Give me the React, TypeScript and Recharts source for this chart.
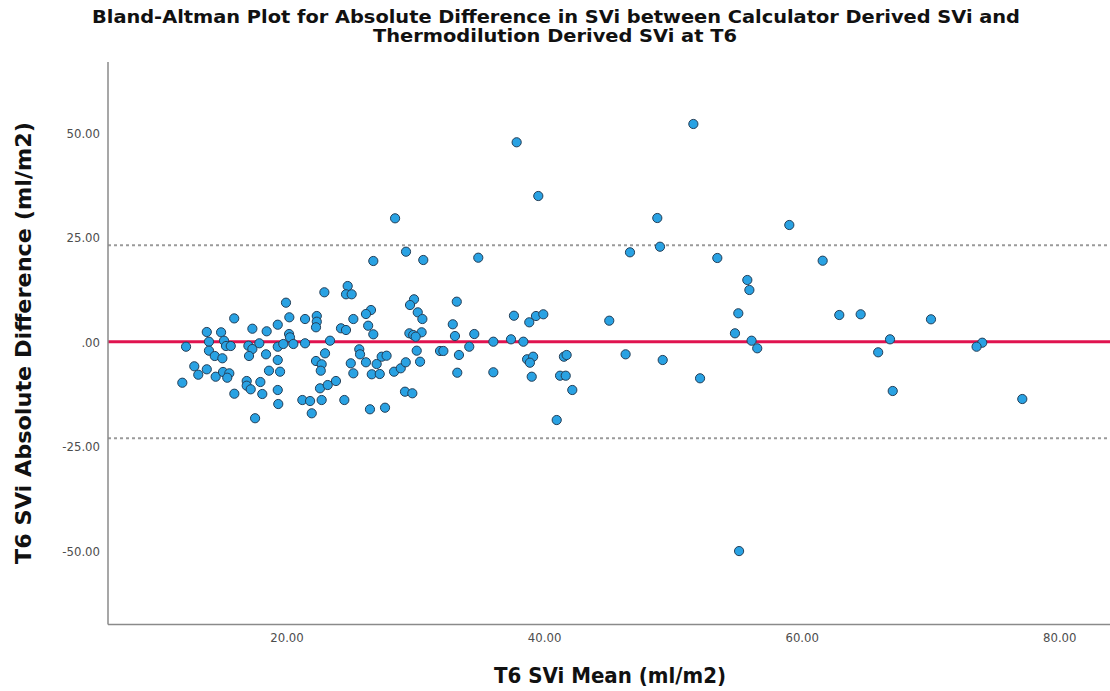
import React from 'react';
import { ScatterChart, Scatter, XAxis, YAxis, ReferenceLine } from 'recharts';

// T6 SVi mean (x) and absolute difference (y)
const meanValues: number[] = [
  15.9, 13.77, 14.88, 17.31, 18.42, 19.28, 12.16, 13.94, 15.11, 15.26,
  15.63, 13.94, 14.39, 14.98, 17.0, 17.31, 17.85, 17.05, 18.37, 19.28,
  19.28, 12.8, 13.77, 13.11, 14.46, 15.03, 15.52, 15.36, 18.6, 19.46,
  11.87, 16.87, 16.87, 17.18, 17.93, 15.91, 18.08, 19.28, 19.32, 17.52,
  28.39, 29.24, 30.58, 26.7, 22.9, 24.71, 24.58, 25.02, 19.92, 29.86,
  29.55, 26.52, 26.13, 30.15, 30.51, 20.18, 21.4, 22.31, 22.31, 22.25,
  25.15, 24.19, 24.58, 26.3, 26.7, 29.5, 29.8, 30.45, 29.99, 20.16,
  20.23, 19.71, 20.49, 21.4, 23.34, 31.88, 32.14, 30.07, 25.61, 25.67,
  22.95, 22.25, 22.69, 22.62, 24.95, 25.15, 26.13, 26.96, 27.35, 27.73,
  26.58, 27.2, 28.31, 28.83, 29.22, 30.33, 22.56, 23.16, 23.8, 21.19,
  21.79, 22.69, 24.45, 21.92, 26.44, 27.61, 29.16, 29.73,
  37.83, 39.51, 34.85, 46.63, 33.18, 32.87, 33.04, 34.54, 37.62, 38.81,
  39.33, 39.9, 45.02, 34.15, 33.35, 36.02, 37.39, 38.35, 38.64, 39.11,
  38.86, 41.5, 41.71, 33.22, 36.02, 39.0, 41.2, 41.64, 42.15, 40.94,
  46.29,
  51.55, 48.75, 48.96, 59.0, 53.41, 61.59, 55.74, 55.9, 55.04, 62.88,
  64.54, 54.78, 56.07, 56.51, 49.17, 52.07, 65.9, 55.1,
  70.0, 66.82, 67.03, 73.98, 73.54, 77.09,
];

const diffValues: number[] = [
  5.7, 2.44, 2.37, 3.23, 2.61, 4.19, -1.08, 0.12, 0.36, -0.91,
  -0.91, -2.03, -3.3, -3.85, -0.84, -1.63, -0.26, -3.3, -2.9, -1.08,
  -4.26, -5.77, -6.49, -7.78, -8.26, -7.13, -7.45, -8.5, -6.82, -7.06,
  -9.7, -9.29, -10.41, -11.28, -9.53, -12.33, -12.4, -11.44, -14.8, -18.2,
  29.66, 21.67, 19.68, 19.44, 11.95, 13.45, 11.47, 11.47, 9.46, 10.27,
  8.9, 7.7, 6.75, 7.15, 5.55, 5.96, 5.55, 6.27, 4.91, 3.57,
  5.55, 3.33, 2.92, 3.95, 1.89, 2.13, 1.72, 2.37, 1.32, 1.96,
  1.17, -0.43, -0.43, -0.26, 0.36, -2.1, -2.1, -2.03, -1.7, -2.9,
  -2.66, -4.5, -5.29, -6.82, -5.05, -7.45, -4.81, -5.22, -3.47, -3.23,
  -7.68, -7.61, -7.06, -6.25, -4.81, -4.67, -11.04, -10.25, -9.29, -13.84,
  -14.08, -13.84, -13.84, -17.02, -16.06, -15.68, -11.85, -12.23,
  47.86, 35.0, 20.23, 21.52, 9.7, 4.29, 1.48, 1.96, 6.34, 4.76,
  6.27, 6.68, 5.15, -1.08, -3.06, 0.12, 0.69, 0.12, -4.09, -3.47,
  -4.91, -3.47, -3.06, -7.3, -7.2, -8.26, -8.02, -8.02, -11.44, -18.63,
  -2.9,
  52.24, 29.73, 22.86, 28.06, 20.16, 19.51, 14.89, 12.5, 6.92, 6.51,
  6.68, 2.13, 0.36, -1.46, -4.26, -8.64, -2.42, -50.0,
  5.48, 0.69, -11.68, -0.12, -1.08, -13.6,
];

const xTicks: number[] = [20, 40, 60, 80];
const yTicks: number[] = [-50, -25, 0, 25, 50];
const xDomain: [number, number] = [6.1, 83.9];
const yDomain: [number, number] = [-67.58, 67.08];

const bias = 0.1;
const upperLoA = 23.2;
const lowerLoA = -23.0;

const titleLines: string[] = [
  'Bland-Altman Plot for Absolute Difference in SVi between Calculator Derived SVi and',
  'Thermodilution Derived SVi at T6',
];
const xTitle = 'T6 SVi Mean (ml/m2)';
const yTitle = 'T6 SVi Absolute Difference (ml/m2)';

const data = meanValues.map((m, i) => ({ mean: m, diff: diffValues[i] }));

const fmt = (v: number): string => {
  const s = Number(v).toFixed(2);
  return s.replace(/^(-?)0\./, '$1.');
};

const Dot = (props: any) => {
  const { cx, cy } = props;
  if (cx == null || cy == null) return null;
  return <circle cx={cx} cy={cy} r={4.6} fill="#29a2e3" stroke="#243f58" strokeWidth={1} />;
};

const tickStyle = { fill: '#4d4d4d', fontSize: 13, fontFamily: "'DejaVu Sans Condensed', 'DejaVu Sans'" };
const titleFont = "'DejaVu Sans Condensed', 'DejaVu Sans', sans-serif";

export default function App() {
  return (
    <div style={{ position: 'absolute', left: 0, top: 0, width: 1110, height: 691, background: '#ffffff' }}>
      <ScatterChart width={1110} height={691} margin={{ top: 62, right: 0, bottom: 36.5, left: 8 }}>
        <XAxis
          type="number"
          dataKey="mean"
          domain={xDomain}
          ticks={xTicks}
          interval={0}
          allowDataOverflow
          tickFormatter={fmt}
          tickLine={false}
          axisLine={{ stroke: '#8a8a8a', strokeWidth: 1.5 }}
          tick={tickStyle}
          height={30}
        />
        <YAxis
          type="number"
          dataKey="diff"
          domain={yDomain}
          ticks={yTicks}
          interval={0}
          allowDataOverflow
          tickFormatter={fmt}
          tickLine={false}
          axisLine={{ stroke: '#8a8a8a', strokeWidth: 1.5 }}
          tick={tickStyle}
          width={100}
        />
        <Scatter data={data} shape={Dot} isAnimationActive={false} />
        <ReferenceLine y={upperLoA} stroke="#9a9a9a" strokeWidth={2} strokeDasharray="3 3" />
        <ReferenceLine y={lowerLoA} stroke="#9a9a9a" strokeWidth={2} strokeDasharray="3 3" />
        <ReferenceLine y={bias} stroke="#e0134f" strokeWidth={3} />
      </ScatterChart>
      <svg
        width={1110}
        height={691}
        style={{ position: 'absolute', left: 0, top: 0, pointerEvents: 'none' }}
      >
        <text x={556} y={23} textAnchor="middle" fontFamily={titleFont} fontWeight="bold" fontSize={17}
          fill="#111" textLength={928} lengthAdjust="spacingAndGlyphs">{titleLines[0]}</text>
        <text x={555} y={42} textAnchor="middle" fontFamily={titleFont} fontWeight="bold" fontSize={17}
          fill="#111" textLength={364} lengthAdjust="spacingAndGlyphs">{titleLines[1]}</text>
        <text x={610} y={683} textAnchor="middle" fontFamily={titleFont} fontWeight="bold" fontSize={21}
          fill="#111" textLength={232} lengthAdjust="spacingAndGlyphs">{xTitle}</text>
        <text x={0} y={0} transform="translate(31,343) rotate(-90)" textAnchor="middle" fontFamily={titleFont}
          fontWeight="bold" fontSize={21} fill="#111" textLength={442} lengthAdjust="spacingAndGlyphs">{yTitle}</text>
      </svg>
    </div>
  );
}
